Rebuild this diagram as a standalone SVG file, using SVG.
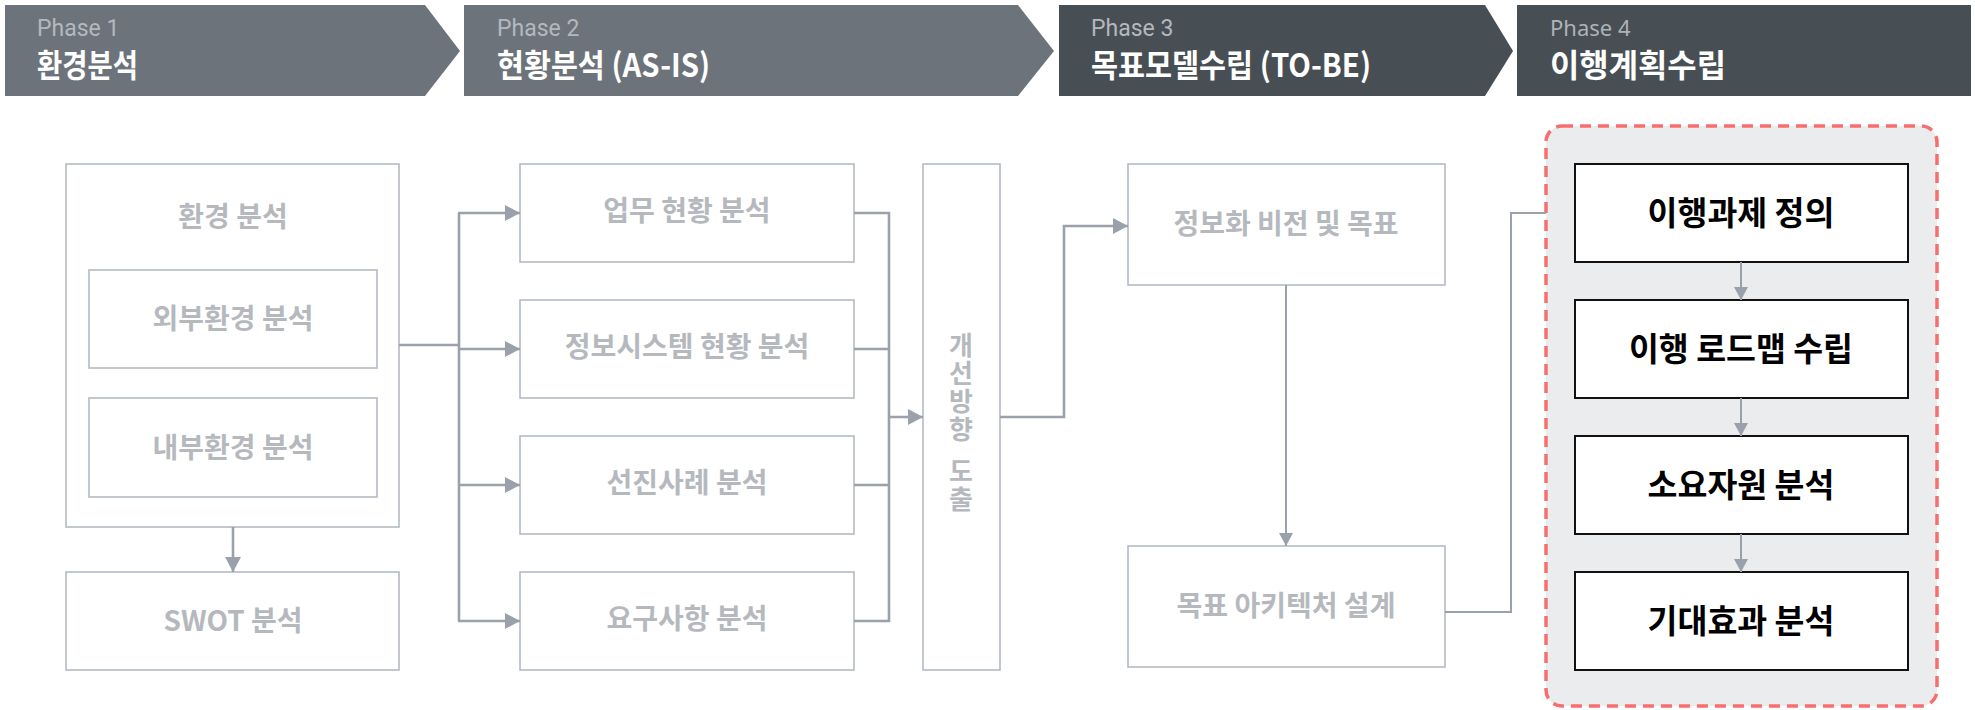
<svg xmlns="http://www.w3.org/2000/svg" width="1975" height="710" viewBox="0 0 1975 710">
<defs>
<style>
.ph1{fill:#6d737b}
.ph3{fill:#474e54}
.phl{font-family:Roboto,"Liberation Sans",sans-serif;font-size:23px;fill:#b3b8bf}
.pht{font-family:"Noto Sans CJK KR",sans-serif;font-size:32px;font-weight:700;fill:#ffffff}
.box{fill:#ffffff;stroke:#b4bbc4;stroke-width:1.6}
.bbox{fill:#ffffff;stroke:#111111;stroke-width:2}
.lbl{font-family:"Noto Sans CJK KR",sans-serif;font-size:28px;font-weight:700;fill:#b5b9be;text-anchor:middle}
.vlbl{font-family:"Noto Sans CJK KR",sans-serif;font-size:26px;font-weight:700;fill:#b5b9be;writing-mode:vertical-rl;text-orientation:upright;letter-spacing:2px}
.blbl{font-family:"Noto Sans CJK KR",sans-serif;font-size:32.5px;font-weight:700;fill:#000000;text-anchor:middle}
.con{fill:none;stroke:#9aa1ab;stroke-width:2.6}
.con2{fill:none;stroke:#9aa1ab;stroke-width:2}
</style>
<marker id="ah" markerUnits="userSpaceOnUse" markerWidth="16" markerHeight="18" refX="15" refY="8" orient="auto">
<path d="M0,0 L15,8 L0,16 Z" fill="#9aa1ab"/>
</marker>
<marker id="ahs" markerUnits="userSpaceOnUse" markerWidth="14" markerHeight="16" refX="13" refY="7" orient="auto">
<path d="M0,0 L13,7 L0,14 Z" fill="#9aa1ab"/>
</marker>
</defs>

<g id="phase1">
<polygon class="ph1" points="5,5 425,5 460,51 425,96 5,96"/>
<text class="phl" x="37" y="36">Phase 1</text>
<text class="pht" x="37" y="77" textLength="101" lengthAdjust="spacingAndGlyphs">환경분석</text>
</g>
<g id="phase2">
<polygon class="ph1" points="464,5 1018,5 1054,51 1018,96 464,96"/>
<text class="phl" x="497" y="36">Phase 2</text>
<text class="pht" x="497" y="77" textLength="213" lengthAdjust="spacingAndGlyphs">현황분석 (AS-IS)</text>
</g>
<g id="phase3">
<polygon class="ph3" points="1059,5 1485,5 1513,51 1485,96 1059,96"/>
<text class="phl" x="1091" y="36">Phase 3</text>
<text class="pht" x="1091" y="77" textLength="280" lengthAdjust="spacingAndGlyphs">목표모델수립 (TO-BE)</text>
</g>
<g id="phase4">
<polygon class="ph3" points="1517,5 1971,5 1971,96 1517,96"/>
<text class="phl" x="1550" y="36" style="font-family:'Noto Sans',sans-serif;font-size:22px;fill:#aeb3b8">Phase 4</text>
<text class="pht" x="1550" y="77" textLength="176" lengthAdjust="spacingAndGlyphs">이행계획수립</text>
</g>

<g id="env">
<rect class="box" x="66" y="164" width="333" height="363"/>
<text class="lbl" x="233" y="227">환경 분석</text>
</g>
<g id="ext">
<rect class="box" x="89" y="270" width="288" height="98"/>
<text class="lbl" x="233" y="329">외부환경 분석</text>
</g>
<g id="int">
<rect class="box" x="89" y="398" width="288" height="99"/>
<text class="lbl" x="233" y="458">내부환경 분석</text>
</g>
<g id="swot">
<rect class="box" x="66" y="572" width="333" height="98"/>
<text class="lbl" x="233" y="631">SWOT 분석</text>
</g>

<g id="biz">
<rect class="box" x="520" y="164" width="334" height="98"/>
<text class="lbl" x="687" y="221">업무 현황 분석</text>
</g>
<g id="sys">
<rect class="box" x="520" y="300" width="334" height="98"/>
<text class="lbl" x="687" y="357">정보시스템 현황 분석</text>
</g>
<g id="best">
<rect class="box" x="520" y="436" width="334" height="98"/>
<text class="lbl" x="687" y="493">선진사례 분석</text>
</g>
<g id="req">
<rect class="box" x="520" y="572" width="334" height="98"/>
<text class="lbl" x="687" y="629">요구사항 분석</text>
</g>

<g id="improve">
<rect class="box" x="923" y="164" width="77" height="506"/>
<text class="vlbl" x="961" y="332">개선방향</text>
<text class="vlbl" x="961" y="458">도출</text>
</g>

<g id="vision">
<rect class="box" x="1128" y="164" width="317" height="121"/>
<text class="lbl" x="1286" y="234">정보화 비전 및 목표</text>
</g>
<g id="arch">
<rect class="box" x="1128" y="546" width="317" height="121"/>
<text class="lbl" x="1286" y="616">목표 아키텍처 설계</text>
</g>

<g id="phase4group">
<rect x="1546" y="126" width="391" height="580" rx="16" ry="16" fill="#ebecee" stroke="#f76e6e" stroke-width="3.5" stroke-dasharray="11 7"/>
</g>
<g id="task">
<rect class="bbox" x="1575" y="164" width="333" height="98"/>
<text class="blbl" x="1741" y="225">이행과제 정의</text>
</g>
<g id="roadmap">
<rect class="bbox" x="1575" y="300" width="333" height="98"/>
<text class="blbl" x="1741" y="361">이행 로드맵 수립</text>
</g>
<g id="resource">
<rect class="bbox" x="1575" y="436" width="333" height="98"/>
<text class="blbl" x="1741" y="497">소요자원 분석</text>
</g>
<g id="effect">
<rect class="bbox" x="1575" y="572" width="333" height="98"/>
<text class="blbl" x="1741" y="633">기대효과 분석</text>
</g>

<g id="connectors">
<line class="con" x1="233" y1="527" x2="233" y2="572" marker-end="url(#ah)"/>
<polyline class="con" points="399,345 459,345"/>
<line class="con" x1="459" y1="213" x2="459" y2="621"/>
<line class="con" x1="458" y1="213" x2="520" y2="213" marker-end="url(#ah)"/>
<line class="con" x1="459" y1="349" x2="520" y2="349" marker-end="url(#ah)"/>
<line class="con" x1="459" y1="485" x2="520" y2="485" marker-end="url(#ah)"/>
<line class="con" x1="458" y1="621" x2="520" y2="621" marker-end="url(#ah)"/>
<polyline class="con" points="854,213 889,213 889,621 854,621"/>
<line class="con" x1="854" y1="349" x2="889" y2="349"/>
<line class="con" x1="854" y1="485" x2="889" y2="485"/>
<line class="con" x1="889" y1="417" x2="923" y2="417" marker-end="url(#ah)"/>
<polyline class="con" points="1000,417 1064,417 1064,226 1128,226" marker-end="url(#ah)"/>
<line class="con2" x1="1286" y1="285" x2="1286" y2="546" marker-end="url(#ahs)"/>
<polyline class="con2" points="1445,612 1511,612 1511,213 1546,213"/>
<line class="con2" x1="1741" y1="262" x2="1741" y2="300" marker-end="url(#ahs)"/>
<line class="con2" x1="1741" y1="398" x2="1741" y2="436" marker-end="url(#ahs)"/>
<line class="con2" x1="1741" y1="534" x2="1741" y2="572" marker-end="url(#ahs)"/>
</g>
</svg>
